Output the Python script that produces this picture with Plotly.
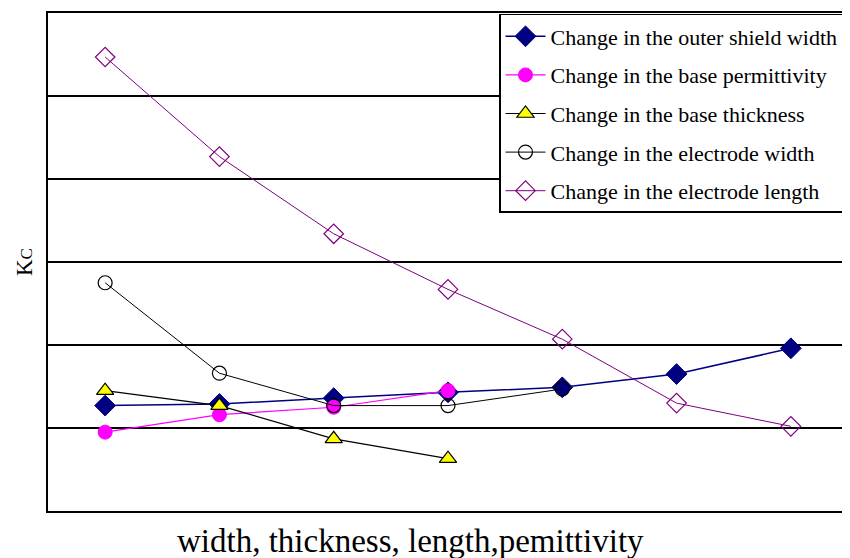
import plotly.graph_objects as go

# category positions (7 steps of the varied parameter)
steps = [1, 2, 3, 4, 5, 6, 7]

# Kc values (gridline units)
outer_shield_width = [1.27, 1.29, 1.36, 1.43, 1.49, 1.65, 1.96]
base_permittivity = [0.95, 1.16, 1.25, 1.45]
base_thickness = [1.45, 1.27, 0.87, 0.63]
electrode_width = [2.75, 1.66, 1.27, 1.27, 1.47]
electrode_length = [5.47, 4.27, 3.34, 2.67, 2.07, 1.30, 1.02]

names = [
    "Change in the outer shield width",
    "Change in the base permittivity",
    "Change in the base thickness",
    "Change in the electrode width",
    "Change in the electrode length",
]
x_title = "width, thickness, length,pemittivity"
y_title = "K<span style='font-size:17px'>C</span>"

FONT = "Liberation Serif, Times New Roman, serif"

fig = go.Figure()

fig.add_trace(go.Scatter(
    x=steps[:len(outer_shield_width)], y=outer_shield_width, name=names[0],
    mode="lines+markers", legendgroup="a",
    line=dict(color="#000080", width=1.5),
    marker=dict(symbol="diamond", size=16, color="#000080",
                line=dict(color="#000080", width=1)),
))
fig.add_trace(go.Scatter(
    x=steps[:len(base_permittivity)], y=base_permittivity, name=names[1],
    mode="lines+markers", legendgroup="b",
    line=dict(color="#FF00FF", width=1.2),
    marker=dict(symbol="circle", size=14, color="#FF00FF",
                line=dict(color="#FF00FF", width=1)),
))
fig.add_trace(go.Scatter(
    x=steps[:len(base_thickness)], y=base_thickness, name=names[2],
    mode="lines+markers", legendgroup="c",
    line=dict(color="#000000", width=1.2),
    marker=dict(symbol="triangle-up", size=15, color="#FFFF00",
                line=dict(color="#000000", width=1.2)),
))
fig.add_trace(go.Scatter(
    x=steps[:len(electrode_width)], y=electrode_width, name=names[3],
    mode="lines+markers", legendgroup="d",
    line=dict(color="#000000", width=1),
    marker=dict(symbol="circle-open", size=14, color="#000000",
                line=dict(color="#000000", width=1.2)),
))
fig.add_trace(go.Scatter(
    x=steps[:len(electrode_length)], y=electrode_length, name=names[4],
    mode="lines+markers", legendgroup="e",
    line=dict(color="#800080", width=1),
    marker=dict(symbol="diamond-open", size=15, color="#800080",
                line=dict(color="#800080", width=1.2)),
))

fig.update_layout(
    width=850, height=558,
    margin=dict(l=40, r=10, t=5, b=55, autoexpand=False),
    paper_bgcolor="white", plot_bgcolor="white",
    font=dict(family=FONT, color="#000000"),
    showlegend=True,
    legend=dict(
        x=0.995, y=0.998, xanchor="right", yanchor="top",
        bgcolor="white", bordercolor="#000000", borderwidth=1.5,
        font=dict(family=FONT, size=22, color="#000000"),
        tracegroupgap=7,
        itemwidth=40,
    ),
    xaxis=dict(
        range=[0.5, 7.5], showgrid=False, zeroline=False,
        showticklabels=False, ticks="",
        showline=True, mirror=True, linecolor="#000000", linewidth=2,
    ),
    yaxis=dict(
        range=[0, 6], dtick=1, showgrid=True, gridcolor="#000000", gridwidth=2,
        zeroline=False, showticklabels=False, ticks="",
        showline=True, mirror=True, linecolor="#000000", linewidth=2,
    ),
    annotations=[
        dict(text=x_title, xref="paper", yref="paper", x=0.4525, y=0,
             xanchor="center", yanchor="middle", yshift=-30, showarrow=False,
             font=dict(family=FONT, size=33, color="#000000")),
        dict(text=y_title, xref="paper", yref="paper", x=-0.03, y=0.5,
             xanchor="center", yanchor="middle", textangle=-90, showarrow=False,
             font=dict(family=FONT, size=23, color="#000000")),
    ],
)

fig.write_html("out.html", config={"responsive": False})
